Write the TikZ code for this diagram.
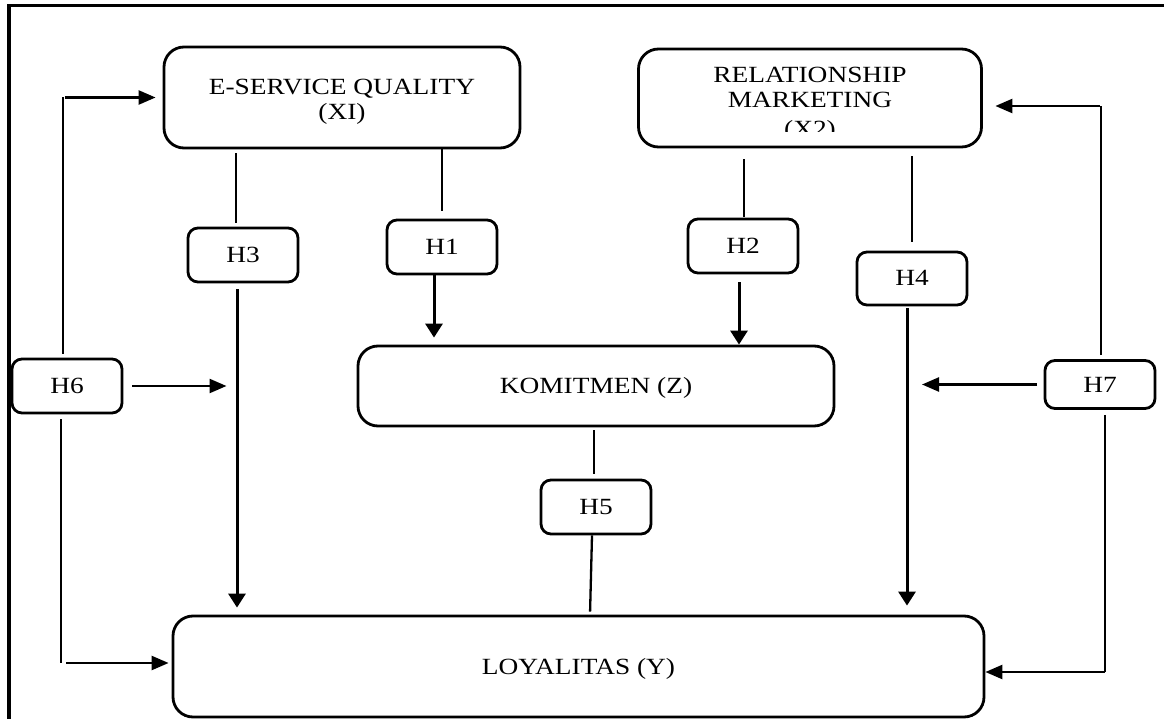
\documentclass[tikz,border=0pt]{standalone}
\usepackage{fontspec}
\setmainfont[FakeStretch=1.18]{Liberation Serif}
\usetikzlibrary{arrows.meta}
\begin{document}
\begin{tikzpicture}[x=1pt,y=-1pt,
  every node/.style={font=\fontsize{23.2}{26}\selectfont},
  bigbox/.style={draw,line width=2.8pt,rounded corners=20pt,inner sep=0pt},
  hbox/.style={draw,line width=2.8pt,rounded corners=10pt,minimum width=110pt,minimum height=54pt,inner sep=0pt,text height=15pt,text depth=0pt},
  thinln/.style={line width=1.4pt},
  midln/.style={line width=2.3pt},
  arr/.style={line width=3pt,-{Triangle[length=14pt,width=17pt]}},
  arrh/.style={line width=2.4pt,-{Triangle[length=17pt,width=14pt]}},
  frameln/.style={line width=3.4pt}]
\useasboundingbox (0,0) rectangle (1164,719);
% frame
\draw[frameln] (9,719) -- (9,5.5) -- (1164,5.5);
% main boxes
\node[bigbox,minimum width=356pt,minimum height=101pt] (xone) at (342,97.5) {};
\node[anchor=base] (xonea) at (342,95) {E-SERVICE QUALITY};
\node[anchor=base] (xoneb) at (342,120) {(XI)};
\node[bigbox,minimum width=343pt,minimum height=98pt] (xtwo) at (810,98) {};
\node[anchor=base] (xtwoa) at (810,83) {RELATIONSHIP};
\node[anchor=base] (xtwob) at (810,108) {MARKETING};
\begin{scope}
\clip (700,110) rectangle (920,132);
\node[anchor=base] (xtwoc) at (810,137) {(X2)};
\end{scope}
\node[bigbox,minimum width=476pt,minimum height=80pt,text height=15pt,text depth=0pt] (zbox) at (596,386) {KOMITMEN (Z)};
\node[bigbox,minimum width=811pt,minimum height=101pt,text height=15pt,text depth=0pt] (ybox) at (578.5,666.5) {LOYALITAS (Y)};
% hypothesis boxes
\node[hbox] (h1) at (442,247) {H1};
\node[hbox] (h2) at (743,246) {H2};
\node[hbox] (h3) at (243,255) {H3};
\node[hbox,minimum height=53pt] (h4) at (912,278.5) {H4};
\node[hbox] (h5) at (596,507) {H5};
\node[hbox] (h6) at (67,386) {H6};
\node[hbox,minimum height=48pt] (h7) at (1100,384.5) {H7};
% H1
\draw[thinln,shorten <=-2pt,shorten >=8pt] (h1.north |- xone.south) -- (h1.north);
\draw[arr,shorten <=-1pt,shorten >=7pt] ([xshift=-8pt]h1.south) -- ([xshift=-8pt]h1.south |- zbox.north);
% H2
\draw[midln,shorten <=11pt,shorten >=1pt] ([xshift=1pt]h2.north |- xtwo.south) -- ([xshift=1pt]h2.north);
\draw[arr,shorten <=8pt] ([xshift=-4pt]h2.south) -- ([xshift=-4pt]h2.south |- zbox.north);
% H3
\draw[thinln,shorten <=4pt,shorten >=4pt] ([xshift=-7pt]h3.north |- xone.south) -- ([xshift=-7pt]h3.north);
\draw[arr,shorten <=6pt,shorten >=7pt] ([xshift=-6pt]h3.south) -- ([xshift=-6pt]h3.south |- ybox.north);
% H4
\draw[thinln,shorten <=8pt,shorten >=9pt] (h4.north |- xtwo.south) -- (h4.north);
\draw[arr,shorten <=2pt,shorten >=9pt] ([xshift=-5pt]h4.south) -- ([xshift=-5pt]h4.south |- ybox.north);
% H5
\draw[thinln,shorten <=3pt,shorten >=5pt] ([xshift=-2pt]h5.north |- zbox.south) -- ([xshift=-2pt]h5.north);
\draw[midln,shorten >=3pt] ([xshift=-4pt]h5.south) -- ([xshift=-6pt]h5.south |- ybox.north);
% H6
\draw[thinln,shorten <=4pt] ([xshift=-4pt]h6.north) -- ([xshift=-4pt]h6.north |- xone.west);
\draw[arrh,shorten >=7pt] ([xshift=-2pt]h6.north |- xone.west) -- (xone.west);
\draw[arrh,shorten <=9pt,shorten >=10.5pt] (h6.east) -- ([xshift=-6pt]h3.south |- h6.east);
\coordinate (yw) at ([yshift=3.5pt]ybox.west);
\draw[thinln,shorten <=5pt] ([xshift=-6pt]h6.south) -- ([xshift=-6pt]h6.south |- yw);
\draw[arrh,shorten >=3pt] ([xshift=-1pt]h6.south |- yw) -- (yw);
% H7
\coordinate (xe) at ([yshift=-8pt]xtwo.east);
\draw[thinln,shorten <=4pt] ([xshift=1pt]h7.north) -- ([xshift=1pt]h7.north |- xe);
\draw[arrh,shorten >=12.5pt] ([xshift=0pt]h7.north |- xe) -- (xe);
\draw[arrh,shorten <=6.5pt,shorten >=15pt] (h7.west) -- ([xshift=-5pt]h4.south |- h7.west);
\coordinate (ye) at ([yshift=-5.5pt]ybox.east);
\draw[thinln,shorten <=5pt] ([xshift=5pt]h7.south) -- ([xshift=5pt]h7.south |- ye);
\draw[arrh] ([xshift=5pt]h7.south |- ye) -- (ye);
\end{tikzpicture}
\end{document}
